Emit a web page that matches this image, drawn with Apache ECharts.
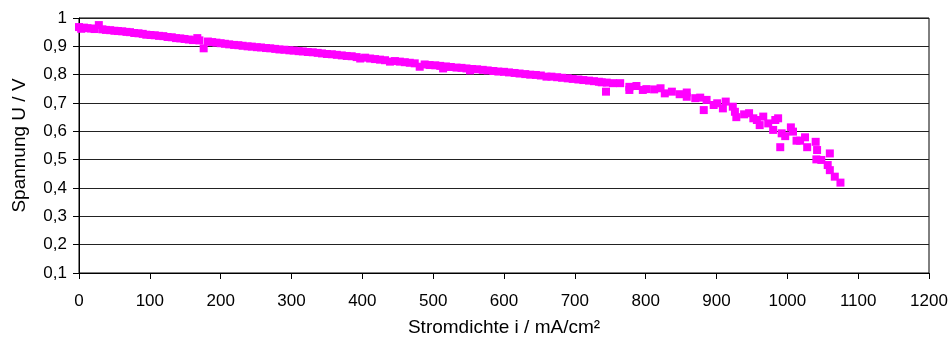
<!DOCTYPE html>
<html><head><meta charset="utf-8">
<script src="https://cdn.jsdelivr.net/npm/echarts@6/dist/echarts.min.js"></script>
<style>html,body{margin:0;padding:0;background:#fff}#c{width:951px;height:344px}</style>
</head><body><div id="c"></div>
<script>
const currentDensity = [0,3,7,12,17,22,28,33,38,44,50,55,61,67,72,78,84,90,95,101,107,113,119,125,131,137,143,149,155,161,167,170,176,182,188,194,200,206,212,219,225,231,238,244,251,257,264,270,277,283,290,297,303,310,316,323,330,337,343,350,357,364,371,378,385,392,397,404,411,418,425,432,439,446,453,460,467,474,481,488,495,503,510,514,518,525,533,540,547,552,555,562,570,577,585,592,600,607,615,622,630,637,645,652,660,667,675,682,690,697,705,712,720,727,734,
738,744,745,754,764,777,777,787,796,801,812,821,827,837,848,858,858,870,877,882,886,896,901,909,913,923,926,928,939,946,952,957,961,966,973,980,983,987,990,992,997,1005,1008,1013,1018,1025,1028,1040,1041,1042,1048,1057,1060,1060,1067,1075];
const voltage = [0.968,0.962,0.966,0.964,0.963,0.961,0.975,0.960,0.958,0.957,0.955,0.954,0.953,0.951,0.950,0.947,0.946,0.944,0.941,0.940,0.939,0.937,0.936,0.933,0.932,0.929,0.928,0.926,0.924,0.922,0.929,0.921,0.893,0.917,0.915,0.913,0.911,0.909,0.907,0.905,0.904,0.902,0.900,0.899,0.897,0.896,0.894,0.893,0.891,0.889,0.888,0.886,0.885,0.883,0.882,0.880,0.879,0.877,0.875,0.873,0.872,0.870,0.868,0.866,0.865,0.862,0.857,0.860,0.857,0.855,0.853,0.851,0.846,0.848,0.846,0.844,0.842,0.840,0.828,0.836,0.834,0.833,0.831,0.822,0.829,0.827,0.825,0.824,0.822,0.815,0.820,0.819,0.817,0.815,0.813,0.811,0.810,0.808,0.806,0.804,0.802,0.800,0.799,0.797,0.793,0.793,0.791,0.789,0.787,0.785,0.783,0.781,0.779,0.777,0.775,
0.773,0.740,0.772,0.770,0.770,0.757,0.746,0.760,0.746,0.749,0.748,0.752,0.734,0.740,0.731,0.737,0.722,0.717,0.719,0.675,0.711,0.693,0.699,0.681,0.705,0.687,0.669,0.650,0.660,0.664,0.646,0.640,0.622,0.652,0.628,0.605,0.640,0.646,0.544,0.593,0.583,0.614,0.599,0.567,0.567,0.579,0.544,0.563,0.501,0.534,0.499,0.481,0.463,0.522,0.440,0.419];
const xTicks = {min: 0, max: 1200, interval: 100};
const yTicks = {min: 0.1, max: 1, interval: 0.1};
const xName = 'Stromdichte i / mA/cm²';
const yName = 'Spannung U / V';

const points = currentDensity.map((x, i) => [x, voltage[i]]);
const font = 'Liberation Sans, Arial, sans-serif';
const chart = echarts.init(document.getElementById('c'), null, {renderer: 'canvas'});
chart.setOption({
  animation: false,
  grid: {left: 79, right: 22, top: 18, bottom: 71, containLabel: false, outerBoundsMode: 'none',
    show: true, borderColor: '#000', borderWidth: 1, backgroundColor: 'transparent'},
  xAxis: {
    type: 'value', min: xTicks.min, max: xTicks.max, interval: xTicks.interval,
    name: xName, nameLocation: 'middle', nameGap: 45, nameMoveOverlap: false,
    nameTextStyle: {fontFamily: font, fontSize: 19, color: '#000'},
    axisLine: {show: true, lineStyle: {color: '#000', width: 1}},
    axisTick: {show: true, inside: false, length: 6, lineStyle: {color: '#000'}},
    axisLabel: {fontFamily: font, fontSize: 17, color: '#000', margin: 20,
      formatter: v => String(Math.round(v))},
    splitLine: {show: false}
  },
  yAxis: {
    type: 'value', min: yTicks.min, max: yTicks.max, interval: yTicks.interval,
    name: yName, nameLocation: 'middle', nameGap: 50, nameRotate: 90, nameMoveOverlap: false,
    nameTextStyle: {fontFamily: font, fontSize: 19, color: '#000'},
    axisLine: {show: true, lineStyle: {color: '#000', width: 1}},
    axisTick: {show: true, inside: false, length: 6, lineStyle: {color: '#000'}},
    axisLabel: {fontFamily: font, fontSize: 17, color: '#000', margin: 12,
      formatter: v => (Math.round(v * 10) / 10).toString().replace('.', ',')},
    splitLine: {show: true, lineStyle: {color: '#222', width: 1}}
  },
  series: [{
    type: 'scatter', data: points, symbol: 'rect', symbolSize: 8,
    itemStyle: {color: '#FF00FF', opacity: 1}
  }]
});
</script></body></html>
